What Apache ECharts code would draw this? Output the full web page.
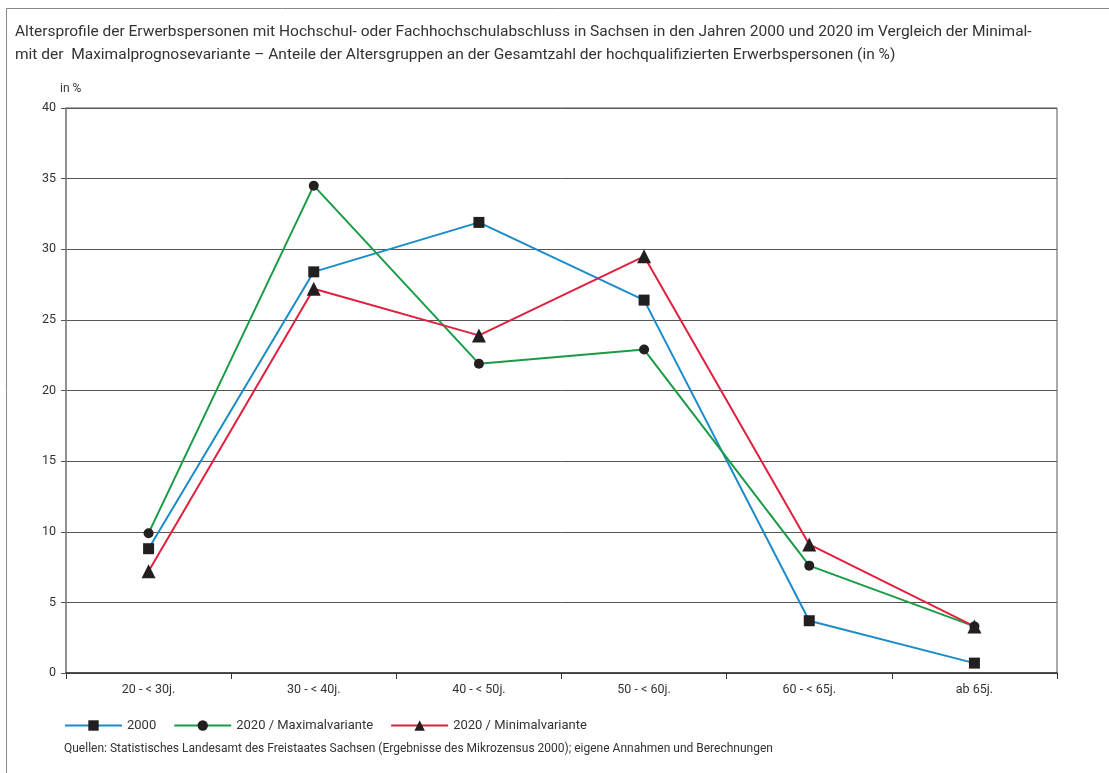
<!DOCTYPE html>
<html>
<head>
<meta charset="utf-8">
<script src="https://cdn.jsdelivr.net/npm/echarts@6/dist/echarts.min.js"></script>
<style>
  html, body { margin: 0; padding: 0; background: #fff; }
  #chart { width: 1109px; height: 773px; }
</style>
</head>
<body>
<div id="chart"></div>
<script>
const categories = ['20 - < 30j.', '30 - < 40j.', '40 - < 50j.', '50 - < 60j.', '60 - < 65j.', 'ab 65j.'];
const yTicks = [0, 5, 10, 15, 20, 25, 30, 35, 40];
const values2000 = [8.8, 28.4, 31.9, 26.4, 3.7, 0.7];
const valuesMax = [9.9, 34.5, 21.9, 22.9, 7.6, 3.3];
const valuesMin = [7.2, 27.2, 23.9, 29.5, 9.1, 3.3];

const FONT = '"Liberation Sans Narrow", "Roboto", sans-serif';
const TEXT = '#333';

const chart = echarts.init(document.getElementById('chart'));

function lineSeries(name, data, color, symbol, size) {
  return {
    name: name,
    type: 'line',
    data: data,
    symbol: symbol,
    symbolSize: size,
    showAllSymbol: true,
    lineStyle: { color: color, width: 2 },
    itemStyle: { color: '#231f20' },
    emphasis: { disabled: true },
    z: 3,
  };
}

chart.setOption({
  animation: false,
  textStyle: { fontFamily: FONT, color: TEXT },
  title: {
    text: 'Altersprofile der Erwerbspersonen mit Hochschul- oder Fachhochschulabschluss in Sachsen in den Jahren 2000 und 2020 im Vergleich der Minimal-\nmit der  Maximalprognosevariante – Anteile der Altersgruppen an der Gesamtzahl der hochqualifizierten Erwerbspersonen (in %)',
    left: 10,
    top: 16,
    textStyle: { fontFamily: FONT, fontSize: 15.5, fontWeight: 'normal', color: TEXT, lineHeight: 23 },
  },
  graphic: [
    {
      type: 'polyline',
      shape: { points: [[6.5, 800], [6.5, 8.5], [1120, 8.5]] },
      style: { stroke: '#888', lineWidth: 1, fill: null },
    },
    {
      type: 'text',
      left: 60,
      top: 83,
      style: { text: 'in %', font: '12px ' + FONT, fill: TEXT },
    },
    {
      type: 'text',
      left: 64,
      top: 743,
      style: {
        text: 'Quellen: Statistisches Landesamt des Freistaates Sachsen (Ergebnisse des Mikrozensus 2000); eigene Annahmen und Berechnungen',
        font: '12px ' + FONT,
        fill: TEXT,
      },
    },
  ],
  legend: {
    left: 59,
    top: 714,
    itemWidth: 57,
    itemHeight: 13,
    itemGap: 17,
    textStyle: { fontFamily: FONT, fontSize: 13, color: TEXT },
    data: ['2000', '2020 / Maximalvariante', '2020 / Minimalvariante'],
  },
  grid: {
    left: 66,
    right: 1109 - 1057,
    top: 108,
    bottom: 773 - 673,
    show: true,
    borderColor: '#555',
    borderWidth: 1,
  },
  xAxis: {
    type: 'category',
    data: categories,
    boundaryGap: true,
    axisLine: { lineStyle: { color: '#333', width: 1.5 } },
    axisTick: { show: true, length: 6, lineStyle: { color: '#333' } },
    axisLabel: { fontFamily: FONT, fontSize: 12.5, color: TEXT, margin: 10 },
    splitLine: { show: false },
  },
  yAxis: {
    type: 'value',
    min: yTicks[0],
    max: yTicks[yTicks.length - 1],
    interval: 5,
    axisLine: { show: true, lineStyle: { color: '#888', width: 1.5 } },
    axisTick: { show: true, length: 5, lineStyle: { color: '#555' } },
    axisLabel: { fontFamily: FONT, fontSize: 12.5, color: TEXT, margin: 10 },
    splitLine: { show: true, lineStyle: { color: '#555', width: 1 } },
  },
  series: [
    lineSeries('2000', values2000, '#1b8bc9', 'rect', 11),
    lineSeries('2020 / Maximalvariante', valuesMax, '#1a9c47', 'circle', 10),
    lineSeries('2020 / Minimalvariante', valuesMin, '#e0203f', 'triangle', 14),
  ],
});
</script>
</body>
</html>
